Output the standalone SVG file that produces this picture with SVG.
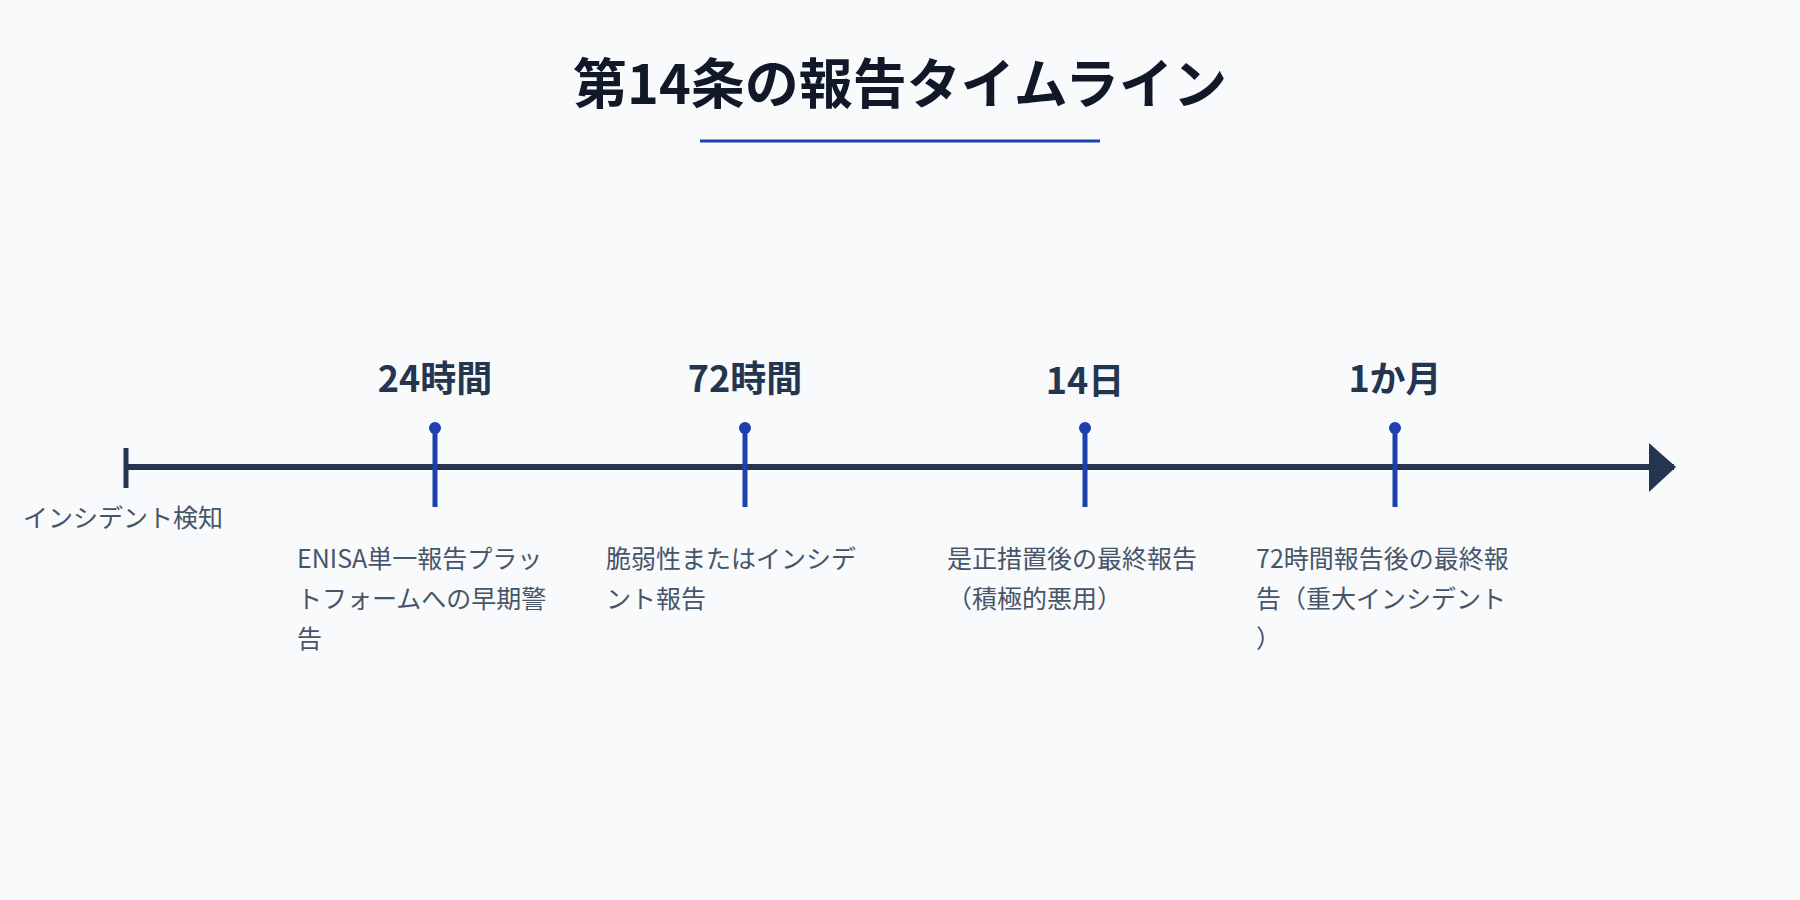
<svg xmlns="http://www.w3.org/2000/svg" width="1800" height="900" viewBox="0 0 1800 900">
<style>
text{font-family:"Noto Sans CJK JP","Noto Sans",sans-serif}
.t{font-size:54px;font-weight:700;fill:#111827}
.h{font-size:36px;font-weight:700;fill:#243550;text-anchor:middle}
.d{font-size:25px;fill:#475569}
.tick{stroke:#1e40af;stroke-width:5}
.dot{fill:#1e40af}
</style>
<rect width="1800" height="900" fill="#f8fafc"/>
<text class="t" x="900" y="104" text-anchor="middle">第14条の報告タイムライン</text>
<line x1="700" y1="141" x2="1100" y2="141" stroke="#1e40af" stroke-width="3"/>
<g id="connectors">
<line x1="126" y1="467" x2="1674" y2="467" stroke="#253550" stroke-width="6"/>
<line x1="126" y1="448" x2="126" y2="488" stroke="#253550" stroke-width="5"/>
<polygon points="1649,443 1676,467 1649,492" fill="#253550"/>
</g>
<g id="start"><text class="d" x="23" y="527">インシデント検知</text></g>
<g id="m24"><line class="tick" x1="435" y1="428" x2="435" y2="507"/><circle class="dot" cx="435" cy="428" r="6"/><text class="h" x="435" y="392">24時間</text>
<text class="d" x="297" y="568">ENISA単一報告プラッ</text><text class="d" x="297" y="608">トフォームへの早期警</text><text class="d" x="297" y="648">告</text></g>
<g id="m72"><line class="tick" x1="745" y1="428" x2="745" y2="507"/><circle class="dot" cx="745" cy="428" r="6"/><text class="h" x="745" y="392">72時間</text>
<text class="d" x="606" y="568">脆弱性またはインシデ</text><text class="d" x="606" y="608">ント報告</text></g>
<g id="m14"><line class="tick" x1="1085" y1="428" x2="1085" y2="507"/><circle class="dot" cx="1085" cy="428" r="6"/><text class="h" x="1085" y="394">14日</text>
<text class="d" x="947" y="568">是正措置後の最終報告</text><text class="d" x="947" y="608">（積極的悪用）</text></g>
<g id="m1"><line class="tick" x1="1395" y1="428" x2="1395" y2="507"/><circle class="dot" cx="1395" cy="428" r="6"/><text class="h" x="1395" y="392">1か月</text>
<text class="d" x="1256" y="568">72時間報告後の最終報</text><text class="d" x="1256" y="608">告（重大インシデント</text><text class="d" x="1256" y="648">）</text></g>
</svg>
